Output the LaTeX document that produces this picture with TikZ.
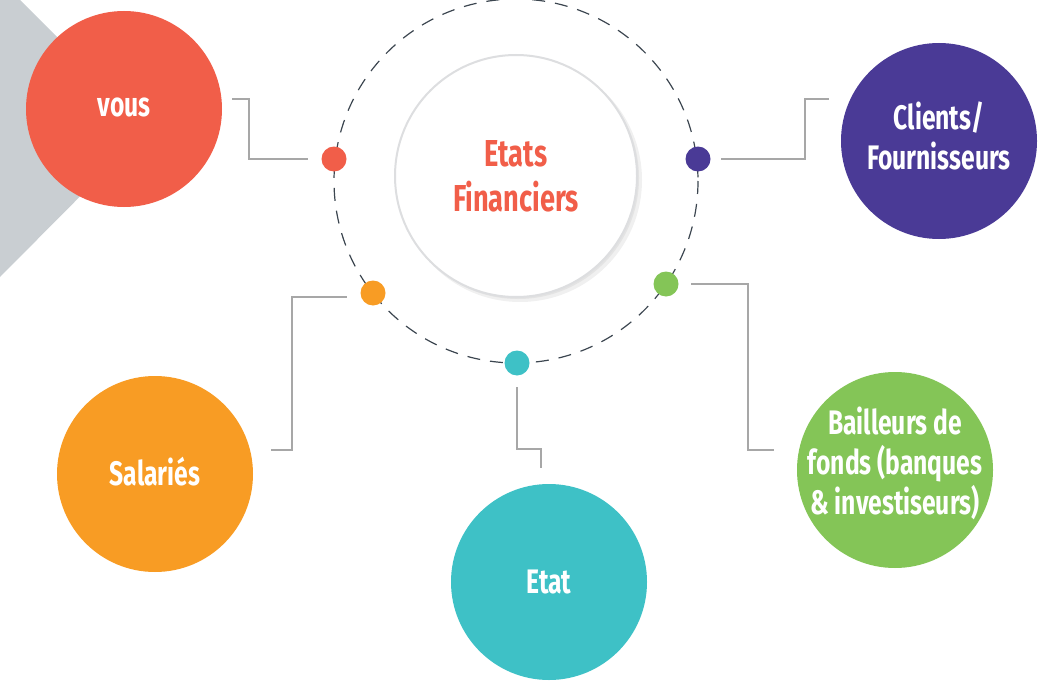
\documentclass[tikz,border=0pt]{standalone}
\usepackage{fontspec}
\newfontfamily\labelfont{Fira Sans}[FakeStretch=0.725]
\definecolor{cRed}{HTML}{F15E49}
\definecolor{cPurple}{HTML}{4A3A96}
\definecolor{cOrange}{HTML}{F89C24}
\definecolor{cTeal}{HTML}{3EC1C6}
\definecolor{cGreen}{HTML}{84C557}
\definecolor{panelgray}{HTML}{C9CED2}
\definecolor{linkgray}{HTML}{A7A7A7}
\definecolor{ringdark}{HTML}{3C4650}
\definecolor{coreedge}{HTML}{DDDEE0}
\begin{document}
\begin{tikzpicture}[x=1pt,y=-1pt,
  bubble/.style={circle,minimum size=196pt,inner sep=0pt},
  bubbletext/.style={text=white,align=center,inner sep=0pt,
    font=\labelfont\bfseries\fontsize{34}{40}\selectfont},
  dotmark/.style={circle,minimum size=25pt,inner sep=0pt},
  link/.style={draw=linkgray,line width=1.5pt},
  ring/.style={draw=ringdark,line width=1.2pt,dash pattern=on 13pt off 10pt},
]
\useasboundingbox (0,0) rectangle (1049,682);

% grey panel on the left edge
\fill[panelgray] (0,0) -- (20,0) -- (148,128) -- (0,277) -- cycle;

% dashed orbit
\draw[ring] (516,181) circle[radius=182];

% central disc with soft shadow
\fill[black!6] (520,180) circle[radius=122];
\fill[black!11] (518,178) circle[radius=121];
\node[circle,minimum size=242pt,inner sep=0pt,fill=white,draw=coreedge,line width=2pt] (core) at (516,176) {};
\node[text=cRed,align=center,inner sep=0pt,font=\labelfont\bfseries\fontsize{37.5}{45}\selectfont] (coret) at (core.center) {Etats\\Financiers};

% outer bubbles
\node[bubble,fill=cRed] (vous) at (124,109) {};
\node[bubble,fill=cPurple] (clients) at (939,141) {};
\node[bubble,fill=cOrange] (salaries) at (155,474) {};
\node[bubble,fill=cTeal] (etat) at (549,582) {};
\node[bubble,fill=cGreen] (bailleurs) at (895,470) {};

\node[bubbletext] (voust) at ([yshift=2pt]vous.center) {vous};
\node[bubbletext] (clientst) at ([yshift=5pt]clients.center) {Clients/\\Fournisseurs};
\node[bubbletext] (salariest) at ([yshift=2pt]salaries.center) {Salariés};
\node[bubbletext] (etatt) at (etat.center) {Etat};
\node[bubbletext] (bailleurst) at ([yshift=7pt]bailleurs.center) {Bailleurs de\\fonds (banques\\\& investiseurs)};

% dots on the orbit
\node[dotmark,fill=cRed] (dr) at (334,159) {};
\node[dotmark,fill=cPurple] (dp) at (698,159) {};
\node[dotmark,fill=cOrange] (do) at (373,293) {};
\node[dotmark,fill=cTeal] (dt) at (517,363) {};
\node[dotmark,fill=cGreen] (dg) at (666,284) {};

% free ends of the elbow links
\coordinate (vousend) at (232,99);
\coordinate (clientsend) at (829,99);
\coordinate (salariesend) at (271,450);
\coordinate (etatend) at (541,468);
\coordinate (bailleursend) at (774,450);

% elbow links
\draw[link] (vousend) -- (249,99) |- ([xshift=-13.5pt]dr.west);
\draw[link] ([xshift=10.5pt]dp.east) -| (805,99) -- (clientsend);
\draw[link] ([xshift=-13.5pt,yshift=-4pt]do.west) -| (292,450) -- (salariesend);
\draw[link] ([yshift=-11.5pt]dt.south) |- (541,449) -- (etatend);
\draw[link] ([xshift=12.5pt]dg.east) -| (748,450) -- (bailleursend);
\end{tikzpicture}
\end{document}
